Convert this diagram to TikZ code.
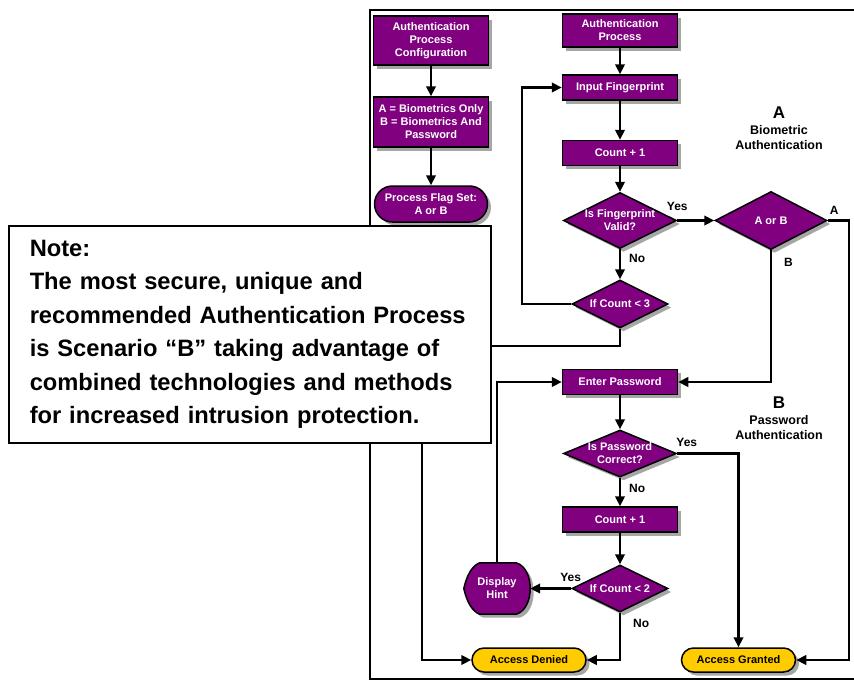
\documentclass[tikz,border=0pt]{standalone}
\usepackage{fontspec}
\setmainfont{Liberation Sans}
\usetikzlibrary{arrows.meta,shapes.geometric,shapes.misc,backgrounds}
\definecolor{procpurple}{HTML}{800080}
\definecolor{termyellow}{HTML}{FFCC00}
\begin{document}
\begin{tikzpicture}[x=1pt, y=-1pt,
        font=\bfseries\fontsize{11}{13}\selectfont,
        boxshadow/.style={preaction={draw=none, fill=black!35, transform canvas={xshift=3.5pt, yshift=-3.5pt}}},
        procbox/.style={rectangle, draw, line width=1.5pt, fill=procpurple, text=white, align=center,
            minimum width=115pt, minimum height=25pt, inner sep=1pt, boxshadow},
        flagbox/.style={procbox, rounded rectangle},
        decision/.style={diamond, draw, line width=1.5pt, fill=procpurple, inner sep=0pt,
            minimum width=113pt, minimum height=56pt, boxshadow},
        dectext/.style={text=white, align=center, inner sep=0pt},
        terminal/.style={rounded rectangle, draw, line width=1.5pt, fill=termyellow, text=black,
            minimum width=116pt, minimum height=24pt, inner sep=1pt, boxshadow},
        flow/.style={line width=2.4pt, -{Triangle[length=10pt, width=9.5pt]}},
        flowlabel/.style={font=\bfseries\fontsize{12}{14}\selectfont, inner sep=1pt},
        sidelabel/.style={font=\bfseries\fontsize{12.5}{15.5}\selectfont, align=center, inner sep=0pt},
        notebox/.style={rectangle, draw, line width=1.5pt, fill=white, text=black, align=left,
            font=\bfseries\fontsize{23.7}{33.5}\selectfont, inner xsep=21pt, inner ysep=0pt,
            text width=440pt, minimum height=217pt}]
    \useasboundingbox (0,0) rectangle (854,680);
    \draw[line width=2pt] (854,10) -- (370,10) -- (370,678.5) -- (854,678.5);

    \node[procbox, minimum height=49pt] (config) at (431,40.5) {Authentication\\Process\\Configuration};
    \node[procbox, minimum height=50pt] (flags) at (431,122) {A = Biometrics Only\\B = Biometrics And\\Password};
    \node[flagbox, minimum height=36pt] (flagset) at (431,204) {Process Flag Set:\\A or B};

    \node[procbox, minimum height=33pt] (authproc) at (620,30.5) {Authentication\\Process};
    \node[procbox] (inputfp) at (620,87.5) {Input Fingerprint};
    \node[procbox] (countfp) at (620,153) {Count + 1};
    \node[decision, label={[dectext]center:Is Fingerprint\\Valid?}] (fpvalid) at (620,220.5) {};
    \node[decision, minimum width=112pt, minimum height=58pt, label={[dectext]center:A or B}] (aorb) at (771,220.5) {};
    \node[decision, minimum width=96pt, minimum height=48pt, label={[dectext]center:If Count < 3}] (countthree) at (620,304) {};

    \node[procbox] (enterpw) at (620,382) {Enter Password};
    \node[decision, minimum height=47pt, label={[dectext]center:Is Password\\Correct?}] (pwok) at (620,453.5) {};
    \node[procbox] (countpw) at (620,519.5) {Count + 1};
    \node[decision, minimum width=96pt, minimum height=47pt, label={[dectext]center:If Count < 2}] (counttwo) at (620,588.5) {};
    \node[minimum width=66pt, minimum height=51pt, text=white, align=center, inner sep=0pt] (hint) at (497,588.5) {Display\\Hint};
    \begin{scope}[on background layer]
        \draw[line width=1.5pt, fill=procpurple, boxshadow]
            (hint.west) .. controls +(3,-13) and +(-8,3) .. ([xshift=16pt]hint.north west)
            -- ([xshift=-14pt]hint.north east) .. controls +(10,3) and +(0,-10.5) .. (hint.east)
            .. controls +(0,10.5) and +(10,-3) .. ([xshift=-14pt]hint.south east)
            -- ([xshift=16pt]hint.south west) .. controls +(-8,-3) and +(3,13) .. (hint.west) -- cycle;
    \end{scope}

    \node[terminal] (denied) at (529,660) {Access Denied};
    \node[terminal] (granted) at (738.5,660) {Access Granted};

    \node[sidelabel, font=\bfseries\fontsize{17}{18}\selectfont] (biotag) at (779,113) {A};
    \node[sidelabel] (biotext) at (779,137.5) {Biometric\\Authentication};
    \node[sidelabel, font=\bfseries\fontsize{17}{18}\selectfont] (pwtag) at (779,403) {B};
    \node[sidelabel] (pwtext) at (779,427.5) {Password\\Authentication};

    \draw[flow] (config) -- (flags);
    \draw[flow] (flags) -- (flagset);
    \draw[flow] (authproc) -- (inputfp);
    \draw[flow] (inputfp) -- (countfp);
    \draw[flow] (countfp) -- (fpvalid);
    \draw[flow] (fpvalid) -- node[flowlabel, pos=0.31, right=7pt] {No} (countthree);
    \draw[flow] (fpvalid.east) -- node[flowlabel, pos=0, anchor=south, yshift=8pt] {Yes} (aorb.west);
    \coordinate (fploop) at (522,87.5);
    \draw[flow] (countthree.west) -| (fploop) -- (inputfp.west);
    \coordinate (fpfail) at (422,346);
    \draw[flow] (countthree.south) |- (fpfail) |- (denied.west);
    \coordinate (bioexit) at (849,220.5);
    \draw[flow] (aorb.east) -- node[flowlabel, pos=0, anchor=south west, yshift=4pt] {A} (bioexit) |- (granted.east);
    \draw[flow] (aorb.south) |- node[flowlabel, pos=0.047, right=11pt] {B} (enterpw.east);

    \draw[flow] (enterpw) -- (pwok);
    \draw[flow] (pwok.east) -| node[flowlabel, pos=0, anchor=south west, xshift=-3pt, yshift=5pt] {Yes} (granted.north);
    \draw[flow] (pwok) -- node[flowlabel, pos=0.37, right=7pt] {No} (countpw);
    \draw[flow] (countpw) -- (counttwo);
    \draw[flow] (counttwo.west) -- node[flowlabel, pos=0, anchor=south east, xshift=12pt, yshift=5pt] {Yes} (hint.east);
    \draw[flow] (hint.north) |- (enterpw.west);
    \draw[flow] (counttwo.south) |- node[flowlabel, pos=0.115, right=11pt] {No} (denied.east);

    \node[notebox, anchor=north west] (note) at (8,225) {Note:\\The most secure, unique and\\recommended Authentication Process\\is Scenario “B” taking advantage of\\combined technologies and methods\\for increased intrusion protection.};
\end{tikzpicture}
\end{document}
